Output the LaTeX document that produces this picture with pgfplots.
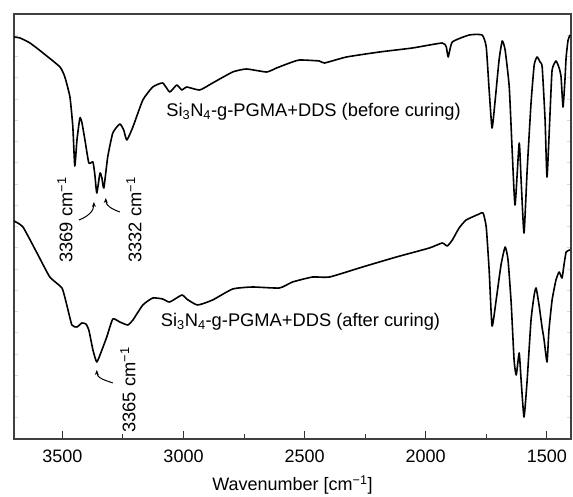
\documentclass[border=0pt]{standalone}
\usepackage{fontspec}
\setmainfont{Liberation Sans}
\usepackage{pgfplots}
\pgfplotsset{compat=1.18}
\usetikzlibrary{arrows.meta}
\begin{document}
\fontsize{18.3bp}{21bp}\selectfont
\begin{tikzpicture}
\useasboundingbox (-14bp,-58bp) rectangle (559bp,439bp);
\begin{axis}[
  at={(0,0)}, anchor=south west,
  scale only axis,
  width=557bp, height=425bp,
  xmin=1400, xmax=3700, ymin=0, ymax=425,
  x dir=reverse,
  axis line style={black!75, line width=1.2bp},
  xtick={1500,2000,2500,3000,3500},
  minor xtick={1750,2250,2750,3250},
  xtick pos=lower,
  xtick style={black!80, line width=1bp},
  major tick length=8bp, minor tick length=5bp,
  ytick={21.25,42.5,...,404},
  yticklabels={},
  ytick style={black!15, line width=0.6bp, /pgfplots/major tick length=4bp},
  ytick pos=both,
  tick align=inside,
  /pgf/number format/assume math mode=true,
  /pgf/number format/1000 sep={},
  xticklabel style={yshift=-5bp, font=\fontsize{18bp}{21bp}\selectfont},
  xlabel={Wavenumber [cm\textsuperscript{−1}]},
  xlabel style={at={(axis description cs:0.5,0)}, anchor=center, yshift=-46bp, font=\fontsize{18bp}{21bp}\selectfont},
]
% before curing
\addplot[black, line width=1.6bp, line join=round, smooth, tension=0.3] coordinates {
(3700,402) (3675,401) (3634,396) (3580,386) (3510,372) (3490,362) (3469,342)
(3457,312) (3449,273) (3440,299) (3428,321) (3420,317) (3407,299) (3391,276)
(3374,277) (3366,264) (3358,246) (3345,266) (3337,261) (3329,251) (3313,282)
(3292,306) (3263,315) (3247,309) (3234,299) (3209,312) (3168,339) (3127,352)
(3086,356) (3057,347) (3028,354) (3007,349) (2987,352) (2933,349) (2880,356)
(2797,367) (2740,370) (2657,367) (2616,371) (2562,376) (2521,379) (2439,378)
(2418,376) (2327,382) (2191,387) (2055,391) (1932,396) (1915,392) (1907,382)
(1890,397) (1820,404) (1767,404) (1750,392) (1738,349) (1726,311) (1713,339)
(1697,379) (1684,398) (1672,389) (1655,352) (1643,289) (1631,234) (1614,296)
(1606,259) (1594,206) (1581,269) (1565,336) (1552,374) (1540,382) (1528,377)
(1519,372) (1507,319) (1499,262) (1486,329) (1478,369) (1462,378) (1449,371)
(1441,362) (1433,332) (1425,359) (1420,382) (1412,399) (1404,404)
};
% after curing
\addplot[black, line width=1.6bp, line join=round, smooth, tension=0.3] coordinates {
(3700,218) (3663,212) (3605,186) (3552,162) (3502,151) (3482,134) (3461,114)
(3440,112) (3420,116) (3403,115) (3391,109) (3374,89) (3358,77) (3337,89)
(3317,102) (3292,120) (3263,117) (3230,114) (3209,119) (3168,134) (3127,141)
(3086,140) (3057,137) (3007,144) (2987,140) (2942,134) (2880,139) (2797,150)
(2715,152) (2604,151) (2550,157) (2467,162) (2397,162) (2261,172) (2121,182)
(1985,191) (1932,196) (1911,193) (1890,199) (1862,211) (1833,219) (1779,225)
(1763,226) (1750,212) (1738,169) (1726,113) (1709,139) (1689,174) (1672,192)
(1660,179) (1647,136) (1635,79) (1626,64) (1614,86) (1606,59) (1594,22)
(1581,59) (1565,119) (1552,144) (1544,151) (1532,134) (1519,111) (1511,99)
(1499,77) (1491,109) (1478,139) (1462,159) (1449,167) (1437,161) (1429,174)
(1420,187) (1404,189)
};
\node at (axis cs:2463,327) {Si\textsubscript{3}N\textsubscript{4}-g-PGMA+DDS (before curing)};
\node at (axis cs:2517,117) {Si\textsubscript{3}N\textsubscript{4}-g-PGMA+DDS (after curing)};
\node[rotate=90] at (axis cs:3490,219) {3369 cm\textsuperscript{−1}};
\node[rotate=90] at (axis cs:3205,219) {3332 cm\textsuperscript{−1}};
\node[rotate=90] at (axis cs:3230,49) {3365 cm\textsuperscript{−1}};
\draw[line width=1bp, -{Stealth[length=5bp,width=4bp]}] (axis cs:3432,219) to[out=20,in=-90] (axis cs:3370,237);
\draw[line width=1bp, -{Stealth[length=5bp,width=4bp]}] (axis cs:3263,227) to[out=160,in=-90] (axis cs:3321,241);
\draw[line width=1bp, -{Stealth[length=5bp,width=4bp]}] (axis cs:3292,56) to[out=160,in=-90] (axis cs:3358,69);
\end{axis}
\end{tikzpicture}
\end{document}
